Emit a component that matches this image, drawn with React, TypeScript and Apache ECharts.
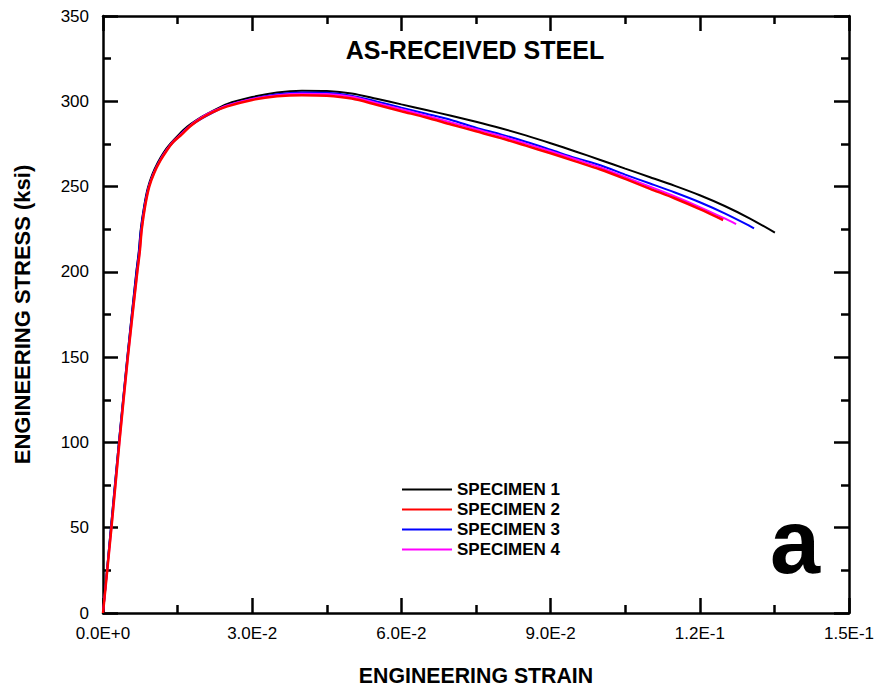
import React, { useEffect, useRef } from "react";
import * as echarts from "echarts";

const FONT = "'Liberation Sans', Arial, sans-serif";

const seriesNames = ["SPECIMEN 1", "SPECIMEN 2", "SPECIMEN 3", "SPECIMEN 4"];
const seriesColors = ["#000000", "#ff0000", "#0000ff", "#ff00ff"];

const xTickLabels = ["0.0E+0", "3.0E-2", "6.0E-2", "9.0E-2", "1.2E-1", "1.5E-1"];
const yTickLabels = ["0", "50", "100", "150", "200", "250", "300", "350"];

// Specimen 1 (black)
const strain1 = [0, 0.0016, 0.0032, 0.0049, 0.0067, 0.0072, 0.0076, 0.0083, 0.009, 0.0099, 0.011, 0.0122, 0.0135, 0.0151, 0.0169, 0.0188, 0.0212, 0.025, 0.03, 0.035, 0.04, 0.045, 0.05, 0.055, 0.06, 0.065, 0.07, 0.075, 0.08, 0.085, 0.09, 0.095, 0.1, 0.105, 0.11, 0.115, 0.12, 0.125, 0.13, 0.1351];
const stress1 = [0, 50, 100, 150, 200, 212, 225, 239, 249, 257, 264, 270, 275, 280, 285, 289, 293, 298.5, 302.5, 305.2, 306.2, 306, 304.6, 301.5, 298.2, 294.9, 291.5, 288, 284.2, 280, 275.4, 270.6, 265.6, 260.5, 255.5, 250.4, 244.9, 238.6, 231.4, 223];

// Specimen 2 (red)
const strain2 = [0, 0.0017, 0.0033, 0.005, 0.0069, 0.0074, 0.0078, 0.0085, 0.0093, 0.0103, 0.0115, 0.0128, 0.0141, 0.0158, 0.0176, 0.0195, 0.022, 0.025, 0.03, 0.035, 0.04, 0.045, 0.05, 0.055, 0.06, 0.065, 0.07, 0.075, 0.08, 0.085, 0.09, 0.095, 0.1, 0.105, 0.11, 0.115, 0.12, 0.1247];
const stress2 = [0, 50, 100, 150, 200, 212, 225, 239, 250, 258, 265, 271, 276, 280.5, 285.5, 289.5, 293.5, 297, 300.8, 302.9, 303.6, 303.3, 301.6, 298, 294.2, 290.5, 286.4, 282.4, 278.4, 274, 269.5, 264.8, 260, 254.5, 248.7, 243, 236.8, 230.4];

// Specimen 3 (blue)
const strain3 = [0, 0.0016, 0.0032, 0.0049, 0.0067, 0.0072, 0.0076, 0.0083, 0.009, 0.0099, 0.011, 0.0122, 0.0135, 0.0151, 0.0169, 0.0188, 0.0212, 0.025, 0.03, 0.035, 0.04, 0.045, 0.05, 0.055, 0.06, 0.065, 0.07, 0.075, 0.08, 0.085, 0.09, 0.095, 0.1, 0.105, 0.11, 0.115, 0.12, 0.125, 0.13, 0.1309];
const stress3 = [0, 50, 100, 150, 199, 211, 224, 238, 248, 256, 263, 269, 274, 279, 284, 288, 292, 297.5, 301.5, 304.2, 305.2, 305, 303.3, 299.9, 296.3, 292.7, 289, 284.5, 280.6, 276.3, 271.6, 266.8, 262.5, 257, 251.8, 246.5, 240.8, 234.3, 227, 225.5];

// Specimen 4 (magenta)
const strain4 = [0, 0.0017, 0.0033, 0.005, 0.0069, 0.0074, 0.0078, 0.0085, 0.0093, 0.0103, 0.0115, 0.0128, 0.0141, 0.0158, 0.0176, 0.0195, 0.022, 0.025, 0.03, 0.035, 0.04, 0.045, 0.05, 0.055, 0.06, 0.065, 0.07, 0.075, 0.08, 0.085, 0.09, 0.095, 0.1, 0.105, 0.11, 0.115, 0.12, 0.125, 0.1273];
const stress4 = [0, 50, 100, 150, 200, 212.5, 225.5, 239.5, 250.5, 258.5, 265.5, 271.5, 276.5, 281, 286, 290, 294, 297.6, 301.4, 303.6, 304.4, 304.2, 302.6, 299, 295.3, 291.6, 287.6, 283.6, 279.6, 275.2, 270.7, 266, 261.2, 255.6, 249.9, 244.2, 238, 231.3, 228];

const pairs = (xs: number[], ys: number[]) => xs.map((x, i) => [x, ys[i]]);

export default function App() {
  const ref = useRef<HTMLDivElement>(null);
  useEffect(() => {
    if (!ref.current) return;
    const chart = echarts.init(ref.current, null, { renderer: "svg" });
    const axisLine = { show: true, onZero: false, lineStyle: { color: "#000", width: 2.5 } };
    const axisTick = { show: true, inside: true, length: 15, lineStyle: { color: "#000", width: 2.5 } };
    const minorTick = { show: true, splitNumber: 2, length: 8, lineStyle: { color: "#000", width: 2.5 } };
    const xCommon = { type: "value" as const, min: 0, max: 0.15, interval: 0.03, splitLine: { show: false }, axisLine, axisTick, minorTick };
    const yCommon = { type: "value" as const, min: 0, max: 350, interval: 50, splitLine: { show: false }, axisLine, axisTick, minorTick };
    const data = [pairs(strain1, stress1), pairs(strain2, stress2), pairs(strain3, stress3), pairs(strain4, stress4)];
    const order = [0, 2, 3, 1];
    chart.setOption({
      animation: false,
      backgroundColor: "#fff",
      textStyle: { fontFamily: FONT },
      grid: { left: 103, right: 30, top: 16, bottom: 76, containLabel: false, outerBoundsMode: "none" },
      xAxis: [
        {
          ...xCommon,
          position: "bottom",
          name: "ENGINEERING STRAIN",
          nameLocation: "middle",
          nameGap: 52,
          nameTextStyle: { fontSize: 21.3, fontWeight: "bold", color: "#000", fontFamily: FONT },
          axisLabel: {
            margin: 12,
            fontSize: 17,
            color: "#000",
            fontFamily: FONT,
            formatter: (_v: number, i: number) => xTickLabels[i],
          },
        },
        { ...xCommon, position: "top", axisLabel: { show: false } },
      ],
      yAxis: [
        {
          ...yCommon,
          position: "left",
          name: "ENGINEERING STRESS (ksi)",
          nameLocation: "middle",
          nameGap: 70,
          nameTextStyle: { fontSize: 22, fontWeight: "bold", color: "#000", fontFamily: FONT },
          axisLabel: {
            margin: 14,
            fontSize: 17,
            color: "#000",
            fontFamily: FONT,
            formatter: (_v: number, i: number) => yTickLabels[i],
          },
        },
        { ...yCommon, position: "right", axisLabel: { show: false } },
      ],
      legend: {
        orient: "vertical",
        left: 402,
        top: 481,
        padding: 0,
        icon: "rect",
        itemWidth: 50,
        itemHeight: 2,
        itemGap: 3,
        data: seriesNames,
        textStyle: { fontSize: 17, fontWeight: "bold", color: "#000", fontFamily: FONT },
      },
      graphic: [
        {
          type: "text",
          x: 475,
          y: 50,
          style: { text: "AS-RECEIVED STEEL", font: `bold 25px ${FONT}`, fill: "#000", textAlign: "center", textVerticalAlign: "middle" },
        },
        {
          type: "text",
          x: 795,
          y: 542,
          style: { text: "a", font: `bold 90px ${FONT}`, fill: "#000", textAlign: "center", textVerticalAlign: "middle" },
        },
      ],
      series: order.map((i) => ({
        type: "line",
        name: seriesNames[i],
        xAxisIndex: 0,
        yAxisIndex: 0,
        data: data[i],
        symbol: "none",
        showSymbol: false,
        smooth: 0.3,
        lineStyle: { color: seriesColors[i], width: i === 1 ? 2.5 : 2 },
        itemStyle: { color: seriesColors[i] },
      })),
    });
    return () => chart.dispose();
  }, []);
  return <div ref={ref} style={{ position: "absolute", left: 0, top: 0, width: 879, height: 689 }} />;
}
